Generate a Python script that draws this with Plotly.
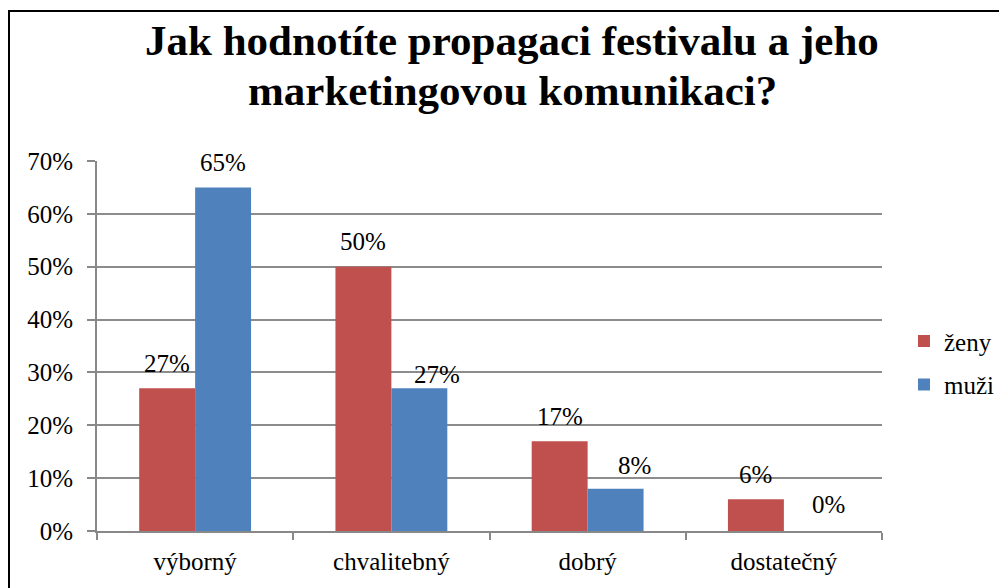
import plotly.graph_objects as go

categories = ["výborný", "chvalitebný", "dobrý", "dostatečný"]
zeny = [0.27, 0.50, 0.17, 0.06]
muzi = [0.65, 0.27, 0.08, 0.00]
series_names = ["ženy", "muži"]
y_ticks = [0, 0.1, 0.2, 0.3, 0.4, 0.5, 0.6, 0.7]
title_lines = ["Jak hodnotíte propagaci festivalu a jeho", "marketingovou komunikaci?"]

RED = "#C0504D"
BLUE = "#4F81BD"
FONT = "Liberation Serif, Times New Roman, serif"

fig = go.Figure()
fig.add_trace(go.Bar(x=categories, y=zeny, name=series_names[0], legendgroup="a",
                     marker=dict(color=RED, line=dict(width=0))))
fig.add_trace(go.Bar(x=categories, y=muzi, name=series_names[1], legendgroup="b",
                     marker=dict(color=BLUE, line=dict(width=0))))

# data labels (Excel-like placement; a few were nudged in the original)
nudge = {(1, 1): (18, -11), (1, 2): (19, -2), (1, 3): (17, 2)}
for s, vals in enumerate([zeny, muzi]):
    for i, v in enumerate(vals):
        dx, dy = nudge.get((s, i), (0, 0))
        fig.add_annotation(
            x=categories[i], y=v, xref="x", yref="y",
            text=f"{round(v*100)}%", showarrow=False,
            xshift=(-28 if s == 0 else 28) + dx, yshift=25 + dy,
            yanchor="middle", xanchor="center",
            font=dict(family=FONT, size=25, color="black"),
        )

# title as two lines
for k, (line, yy) in enumerate(zip(title_lines, [1.3262, 1.1918])):
    fig.add_annotation(
        x=0.5287, y=yy, xref="paper", yref="paper", showarrow=False,
        text=f"<b>{line}</b>", xanchor="center", yanchor="middle",
        font=dict(family=FONT, size=43, color="black"),
    )

fig.add_shape(type="rect", xref="paper", yref="paper",
              x0=-0.1121, x1=1.25, y0=-0.4, y1=1.4054,
              line=dict(color="black", width=2), fillcolor="rgba(0,0,0,0)", layer="below")

fig.update_layout(
    width=999, height=580,
    margin=dict(l=89, r=125, t=153, b=57, autoexpand=False),
    paper_bgcolor="white", plot_bgcolor="white",
    font=dict(family=FONT, size=25, color="black"),
    barmode="group", bargap=0.43, bargroupgap=0,
    legend=dict(x=1.028, xanchor="left", y=0.455, yanchor="middle",
                font=dict(family=FONT, size=25), bgcolor="rgba(0,0,0,0)",
                tracegroupgap=8, traceorder="grouped"),
    showlegend=True,
)
fig.update_xaxes(
    showline=True, linecolor="#888888", linewidth=2,
    ticks="outside", tickson="boundaries", ticklen=7, tickcolor="#888888", tickwidth=2,
    showgrid=False, tickfont=dict(family=FONT, size=25, color="black"),
    ticklabelstandoff=7,
)
fig.update_yaxes(
    range=[0, 0.7], tickvals=y_ticks, tickformat=".0%",
    showline=True, linecolor="#888888", linewidth=2,
    ticks="outside", ticklen=8, tickcolor="#888888", tickwidth=2,
    showgrid=True, gridcolor="#8c8c8c", gridwidth=2, zeroline=False,
    tickfont=dict(family=FONT, size=25, color="black"),
    ticklabelstandoff=9,
)

fig.write_html("out.html")
